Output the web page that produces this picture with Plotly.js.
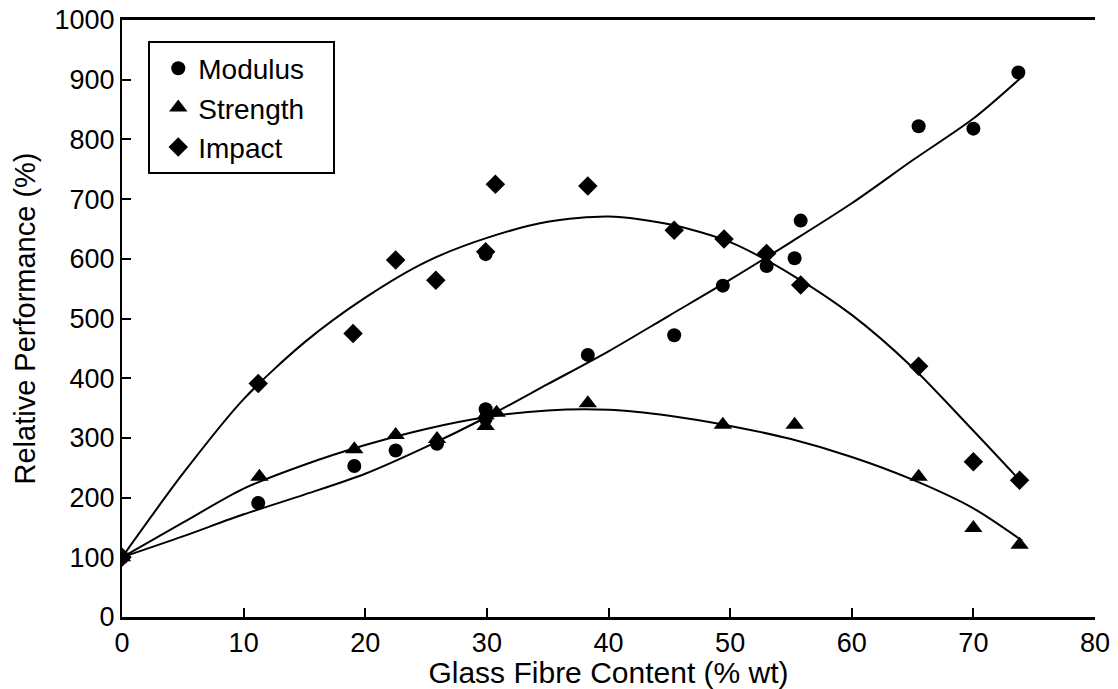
<!DOCTYPE html>
<html>
<head>
<meta charset="utf-8">
<script src="https://cdn.plot.ly/plotly-3.0.1.min.js"></script>
<style>html,body{margin:0;padding:0;background:#fff;}#chart{width:1118px;height:689px;}</style>
</head>
<body>
<div id="chart"></div>
<script>
// Measured points
const modulusX = [0, 11.2, 19.1, 22.5, 25.9, 29.9, 29.9, 29.9, 38.3, 45.4, 49.4, 53.0, 55.3, 55.8, 65.5, 70.0, 73.7];
const modulusY = [100, 191, 253, 279, 290, 348, 332, 608, 439, 472, 555, 588, 601, 664, 822, 818, 912];

const strengthX = [0, 11.3, 19.1, 22.5, 25.9, 29.9, 29.9, 30.8, 38.3, 49.4, 55.3, 65.5, 70.0, 73.8];
const strengthY = [100, 235, 281, 305, 298, 320, 338, 342, 358, 322, 322, 235, 149, 121];

const impactX = [0, 11.2, 19.0, 22.5, 25.8, 29.9, 30.7, 38.3, 45.4, 49.5, 53.0, 55.8, 65.5, 70.0, 73.8];
const impactY = [100, 391, 475, 598, 564, 612, 725, 722, 648, 633, 609, 556, 420, 260, 229];

// Fitted curves
const fitX = [0, 5, 10, 15, 20, 25, 30, 35, 40, 45, 50, 55, 60, 65, 70, 74];
const modulusFitY  = [100, 135, 172, 205, 240, 285, 335, 390, 445, 505, 565, 628, 693, 765, 835, 905];
const strengthFitY = [100, 158, 215, 255, 288, 315, 335, 346, 347, 337, 320, 298, 268, 230, 182, 128];
const impactFitY   = [100, 240, 365, 460, 535, 595, 635, 662, 671, 658, 628, 574, 506, 418, 312, 225];

const seriesNames = ['Modulus', 'Strength', 'Impact'];
const xTicks = [0, 10, 20, 30, 40, 50, 60, 70, 80];
const yTicks = [0, 100, 200, 300, 400, 500, 600, 700, 800, 900, 1000];

const FONT = '"Liberation Sans", Arial, sans-serif';
const lineStyle = {color: '#000', width: 2, shape: 'spline', smoothing: 0.8};
const pad = '\u00a0\u00a0\u00a0';

const traces = [
  {x: fitX, y: modulusFitY, mode: 'lines', line: lineStyle, showlegend: false, hoverinfo: 'skip'},
  {x: fitX, y: strengthFitY, mode: 'lines', line: lineStyle, showlegend: false, hoverinfo: 'skip'},
  {x: fitX, y: impactFitY, mode: 'lines', line: lineStyle, showlegend: false, hoverinfo: 'skip'},
  {x: modulusX, y: modulusY, mode: 'markers', name: seriesNames[0] + pad,
   marker: {symbol: 'circle', size: 14, color: '#000'}},
  {x: strengthX, y: strengthY, mode: 'markers', name: seriesNames[1] + pad,
   marker: {symbol: 'triangle-up', size: 16, color: '#000'}},
  {x: impactX, y: impactY, mode: 'markers', name: seriesNames[2] + pad,
   marker: {symbol: 'diamond', size: 15, color: '#000'}}
];

const layout = {
  width: 1118, height: 689,
  margin: {l: 122, r: 23, t: 20, b: 72},
  paper_bgcolor: '#fff', plot_bgcolor: '#fff',
  font: {family: FONT, size: 27, color: '#000'},
  showlegend: true,
  legend: {
    x: 0.027, y: 0.964, xanchor: 'left', yanchor: 'top',
    bordercolor: '#000', borderwidth: 2, bgcolor: '#fff',
    font: {family: FONT, size: 28, color: '#000'},
    traceorder: 'normal', indentation: 8
  },
  xaxis: {
    range: [0, 80], tickvals: xTicks, ticktext: xTicks.map(String),
    ticks: 'inside', ticklen: 9, tickwidth: 2, tickcolor: '#000',
    showline: true, linecolor: '#000', linewidth: 3, mirror: true,
    showgrid: false, zeroline: false,
    tickfont: {family: FONT, size: 27, color: '#000'},
    title: {text: 'Glass Fibre Content (% wt)', font: {family: FONT, size: 30, color: '#000'}, standoff: 4}
  },
  yaxis: {
    range: [0, 1000], tickvals: yTicks, ticktext: yTicks.map(String),
    ticks: 'inside', ticklen: 9, tickwidth: 2, tickcolor: '#000',
    showline: true, linecolor: '#000', linewidth: 2,
    showgrid: false, zeroline: false,
    tickfont: {family: FONT, size: 27, color: '#000'},
    title: {text: 'Relative Performance (%)', font: {family: FONT, size: 29, color: '#000'}, standoff: 10}
  }
};

Plotly.newPlot('chart', traces, layout, {displayModeBar: false, staticPlot: true});
</script>
</body>
</html>
